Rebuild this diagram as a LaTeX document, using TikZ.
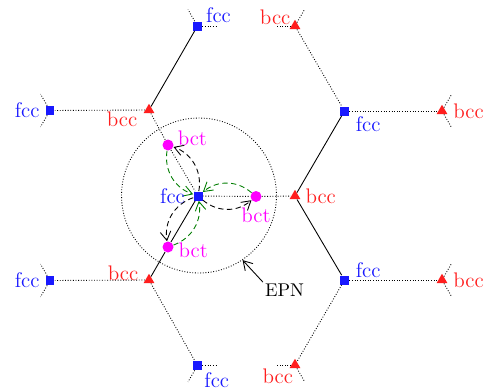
\documentclass[tikz,border=0pt]{standalone}
\usepackage{tikz}
\usetikzlibrary{positioning}
\usetikzlibrary{calc}
\usetikzlibrary{shapes.geometric}
\usetikzlibrary{arrows.meta}

\definecolor{fccblue}{RGB}{25,25,255}
\definecolor{bccred}{RGB}{255,30,30}
\definecolor{bctmag}{RGB}{255,0,255}
\definecolor{jumpgreen}{RGB}{0,125,0}

\tikzset{
	fccsite/.style={fill=fccblue, minimum size=0.18cm, inner sep=0pt},
	bccsite/.style={regular polygon, regular polygon sides=3, fill=bccred, minimum size=0.25cm, inner sep=0pt},
	bctsite/.style={circle, fill=bctmag, minimum size=0.22cm, inner sep=0pt},
	fcclab/.style={text=fccblue, font=\fontsize{12}{14}\selectfont, inner sep=1pt},
	bcclab/.style={text=bccred, font=\fontsize{12}{14}\selectfont, inner sep=1pt},
	bctlab/.style={text=bctmag, font=\fontsize{12}{14}\selectfont, inner sep=1pt},
	bond/.style={line width=0.5pt},
	weak/.style={line width=0.5pt, densely dotted},
	jump/.style={line width=0.5pt, dash pattern=on 3pt off 2pt, -{Straight Barb[length=5pt,width=6pt]}},
	back/.style={jump, jumpgreen}
}

\begin{document}
\begin{tikzpicture}[x=0.02cm, y=0.02cm]
	\useasboundingbox (0,0) rectangle (487,390);
	% central fcc site, its bct neighbours and the bcc ring
	\node (epn) at (199,194.5) [circle, draw, densely dotted, line width=0.5pt, minimum size=3.1cm] {};
	\node (C) at (198,194) [fccsite] {};
	\node (bctR) at (256,193.5) [bctsite] {};
	\node (bctUL) at (168,245) [bctsite] {};
	\node (bctLL) at (168,143) [bctsite] {};
	\node (bccR) at (295,194) [bccsite] {};
	\node (bccUL) at (149,280) [bccsite] {};
	\node (bccLL) at (149,110) [bccsite] {};
	% outer sites
	\node (fccL1) at (50,279.5) [fccsite] {};
	\node (fccT) at (197.5,364) [fccsite] {};
	\node (bccT) at (295,364) [bccsite] {};
	\node (fccUR) at (344.5,279) [fccsite] {};
	\node (bccRR) at (442,279) [bccsite] {};
	\node (fccLR) at (344.5,110) [fccsite] {};
	\node (bccRR2) at (442,110) [bccsite] {};
	\node (bccB) at (295,25) [bccsite] {};
	\node (fccB) at (197.5,24.5) [fccsite] {};
	\node (fccL2) at (50,109.5) [fccsite] {};

	\draw[bond] (fccT) -- (bccUL);
	\draw[weak] (bccUL) -- (fccL1);
	\draw[weak] (bccUL) -- (bctUL) -- (C);
	\draw[weak] (C) -- (bctR) -- (bccR);
	\draw[bond] (C) -- (bctLL) -- (bccLL);
	\draw[bond] (bccR) -- (fccUR);
	\draw[bond] (bccR) -- (fccLR);
	\draw[weak] (bccT) -- (fccUR);
	\draw[weak] (fccUR) -- (bccRR);
	\draw[weak] (fccLR) -- (bccRR2);
	\draw[weak] (fccLR) -- (bccB);
	\draw[weak] (bccLL) -- (fccL2);
	\draw[weak] (bccLL) -- (fccB);

	% broken-off bonds at the rim
	\foreach \site/\a/\b in {fccL1/120/240, fccT/0/120, bccT/180/60, bccRR/60/-60, bccRR2/60/-60, fccL2/120/240, fccB/0/240, bccB/180/300} {
		\coordinate (\site-a) at ($(\site)+(\a:19)$);
		\coordinate (\site-b) at ($(\site)+(\b:19)$);
		\draw[weak] (\site) -- (\site-a);
		\draw[weak] (\site) -- (\site-b);
	}

	% jumps fcc -> bct and back
	\foreach \t in {bctR, bctUL, bctLL} {
		\draw[jump] (C) to[bend right=40] (\t);
		\draw[back] (\t) to[bend right=40] (C);
	}

	\node [fcclab, above right=-2pt and 1pt of fccT] {fcc};
	\node [bcclab, above left=-2pt and 0pt of bccT] {bcc};
	\node [fcclab, left=2pt of fccL1] {fcc};
	\node [bcclab, below left=-2pt and 3.5pt of bccUL] {bcc};
	\node [bctlab, above right=-4pt and 2pt of bctUL] {bct};
	\node [fcclab, left=3.5pt of C] {fcc};
	\node [bctlab, below=2pt of bctR] {bct};
	\node [bcclab, right=2.5pt of bccR] {bcc};
	\node [bctlab, below right=-6pt and 2.5pt of bctLL] {bct};
	\node [fcclab, below right=-1pt and 2.5pt of fccUR] {fcc};
	\node [bcclab, right=3pt of bccRR] {bcc};
	\node [fcclab, above right=-2.5pt and 2.5pt of fccLR] {fcc};
	\node [bcclab, right=3pt of bccRR2] {bcc};
	\node [fcclab, left=2pt of fccL2] {fcc};
	\node [bcclab, above left=-3pt and 3.5pt of bccLL] {bcc};
	\node [fcclab, below right=0pt and 0pt of fccB] {fcc};
	\node [bcclab, below left=-1pt and -2pt of bccB] {bcc};
	\node (epnlab) at (284.5,99.5) [font=\fontsize{10.5}{12}\selectfont, inner sep=1pt] {EPN};
	\draw[-{Straight Barb[length=5pt,width=6pt]}, line width=0.5pt] (epnlab.north west) -- (epn.-56);
\end{tikzpicture}
\end{document}
